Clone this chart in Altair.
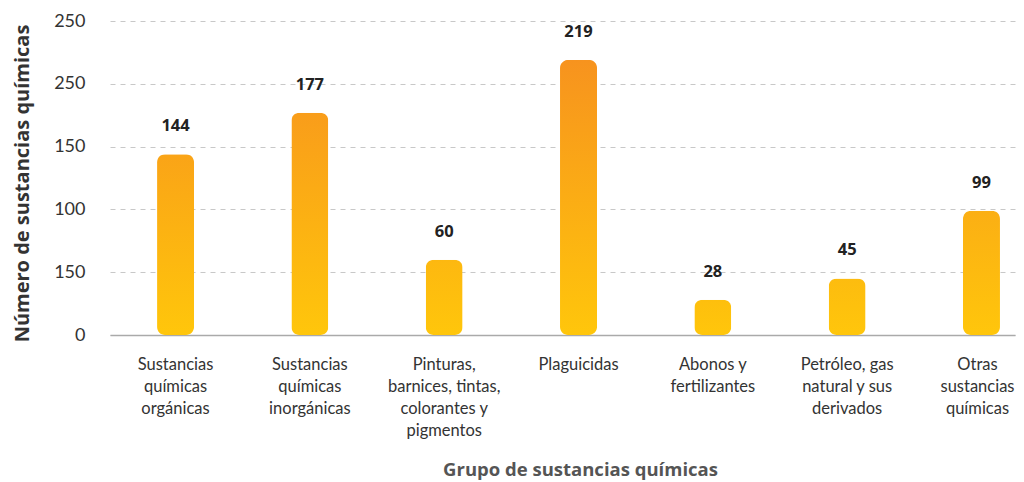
import altair as alt
import pandas as pd

categories = [
    "Sustancias\nquímicas\norgánicas",
    "Sustancias\nquímicas\ninorgánicas",
    "Pinturas,\nbarnices, tintas,\ncolorantes y\npigmentos",
    "Plaguicidas",
    "Abonos y\nfertilizantes",
    "Petróleo, gas\nnatural y sus\nderivados",
    "Otras\nsustancias\nquímicas",
]
values = [144, 177, 60, 219, 28, 45, 99]
y_ticks = [0, 50, 100, 150, 200, 250]
y_tick_labels = ["0", "150", "100", "150", "250", "250"]

df = pd.DataFrame({"cat": categories, "val": values})

FONT = "Lato"
TFONT = "Open Sans"
bottom_rgb = (255, 198, 11)
top_rgb = (247, 147, 30)
vmax = max(values)


def mix(t):
    r, g, b = [round(a + (c - a) * t) for a, c in zip(bottom_rgb, top_rgb)]
    return f"#{r:02x}{g:02x}{b:02x}"


label_expr = "[" + ",".join(f"'{s}'" for s in y_tick_labels) + "][indexof(" + str(y_ticks) + ", datum.value)]"

x_enc = alt.X(
    "cat:N",
    sort=categories,
    scale=alt.Scale(domain=categories, paddingInner=0.7246, paddingOuter=0.231, align=0.758),
    axis=alt.Axis(
        title="Grupo de sustancias químicas",
        labelExpr="split(datum.label, '\\n')",
        labelAngle=0,
        labelFont=FONT,
        labelFontSize=16.5,
        labelColor="#333333",
        labelLineHeight=22,
        labelPadding=21,
        labelBaseline="top",
        labelOffset={"condition": {"test": "indexof(datum.value, 'Otras') === 0", "value": -4}, "value": 0},
        ticks=False,
        domainColor="#aaaaaa",
        domainWidth=1.5,
        titleFont=TFONT,
        titleFontSize=18.5,
        titleFontWeight="bold",
        titleColor="#555555",
        titleX=470,
        titleY=134,
        titleBaseline="middle",
        labelLimit=300,
    ),
)
y_enc = alt.Y(
    "val:Q",
    scale=alt.Scale(domain=[0, 250], nice=False),
    axis=alt.Axis(
        title="Número de sustancias químicas",
        values=y_ticks,
        labelExpr=label_expr,
        labelFont=FONT,
        labelFontSize=18,
        labelColor="#333333",
        labelPadding=25,
        ticks=False,
        domain=False,
        gridDash=[5, 5],
        gridColor="#c8c8c8",
        gridWidth=1,
        titleFont=TFONT,
        titleFontSize=20,
        titleFontWeight="bold",
        titleColor="#333333",
        titleAngle=-90,
        titleX=-88,
        titleY=162,
        titleAlign="center",
        titleBaseline="middle",
    ),
)

layers = []
for cat, v in zip(categories, values):
    grad = alt.Gradient(
        gradient="linear",
        stops=[
            alt.GradientStop(color=mix(v / vmax), offset=0),
            alt.GradientStop(color=mix(0), offset=1),
        ],
        x1=0, x2=0, y1=0, y2=1,
    )
    layers.append(
        alt.Chart(df)
        .transform_filter(alt.datum.cat == cat)
        .mark_bar(color=grad, cornerRadius=8)
        .encode(x=x_enc, y=y_enc)
    )

text = (
    alt.Chart(df)
    .mark_text(font=TFONT, fontSize=16.5, fontWeight="bold", color="#222222", dy=-28, baseline="middle")
    .encode(x=x_enc, y=y_enc, text="val:Q")
)

chart = (
    alt.layer(*layers, text)
    .properties(
        width=905,
        height=314,
        autosize=alt.AutoSizeParams(type="none"),
        padding={"left": 102, "top": 13, "right": 1, "bottom": 145},
    )
    .configure_view(stroke=None)
)

chart.save("out.html", embed_options={"renderer": "svg", "actions": False})
